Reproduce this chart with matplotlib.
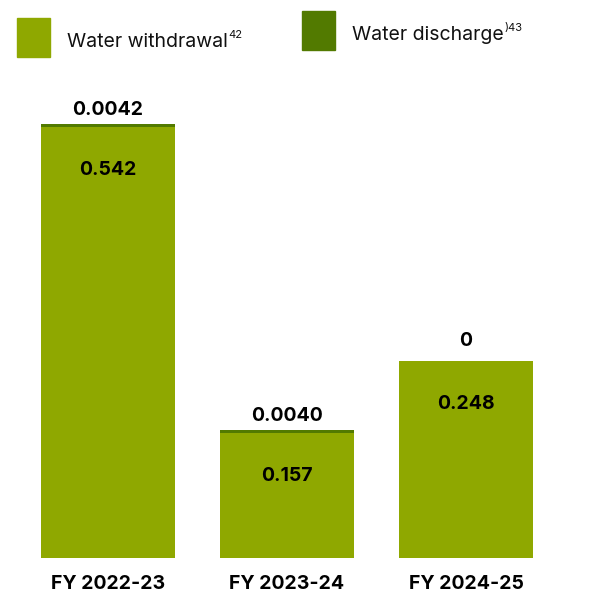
import matplotlib.pyplot as plt
from matplotlib.patches import Rectangle

years = ['FY 2022-23', 'FY 2023-24', 'FY 2024-25']
withdrawal = [0.542, 0.157, 0.248]
discharge = [0.0042, 0.0040, 0]
discharge_labels = ['0.0042', '0.0040', '0']

withdrawal_color = '#8fa800'
discharge_color = '#527a00'

plt.rcParams['font.family'] = ['Inter', 'DejaVu Sans']

fig = plt.figure(figsize=(6.14, 5.97), dpi=100)
ax = fig.add_axes([0, 0.0653, 1, 0.8007])

x = [0, 1, 2]
bar_w = 0.75
ax.bar(x, withdrawal, width=bar_w, color=withdrawal_color)
ax.bar(x, discharge, width=bar_w, bottom=withdrawal, color=discharge_color)

ax.set_xlim(-0.603, 2.827)
ax.set_ylim(0, 0.601)

# value labels: withdrawal inside the bar, discharge above it
for xi, w, d, lab in zip(x, withdrawal, discharge, discharge_labels):
    ax.annotate(f'{w:g}', (xi, w), xytext=(0, -31), textcoords='offset points',
                ha='center', va='center', fontsize=14, fontweight='bold')
    ax.annotate(lab, (xi, w + d), xytext=(0, 10 if d else 14),
                textcoords='offset points', ha='center', va='center',
                fontsize=14, fontweight='bold')

ax.set_xticks(x)
ax.set_xticklabels(years, fontsize=14, fontweight='bold')
ax.tick_params(axis='x', length=0, pad=12)
ax.set_yticks([])
for s in ax.spines.values():
    s.set_visible(False)

# legend drawn by hand in figure pixels
W, H = 614, 597


def legend_item(x0, y0, color, label, sup):
    fig.patches.append(Rectangle((x0 / W, 1 - (y0 + 39) / H), 33 / W, 39 / H,
                                 transform=fig.transFigure, color=color))
    t = fig.text((x0 + 50) / W, 1 - (y0 + 24) / H, label, fontsize=14,
                 va='center', ha='left', color='#111111')
    fig.canvas.draw()
    bb = t.get_window_extent()
    fig.text(bb.x1 / W + 0.001, 1 - (y0 + 17) / H, sup, fontsize=8,
             va='center', ha='left', color='#111111')


legend_item(17, 18, withdrawal_color, 'Water withdrawal', '42')
legend_item(302, 11, discharge_color, 'Water discharge', ')43')

fig.savefig('out.png', dpi=100)
